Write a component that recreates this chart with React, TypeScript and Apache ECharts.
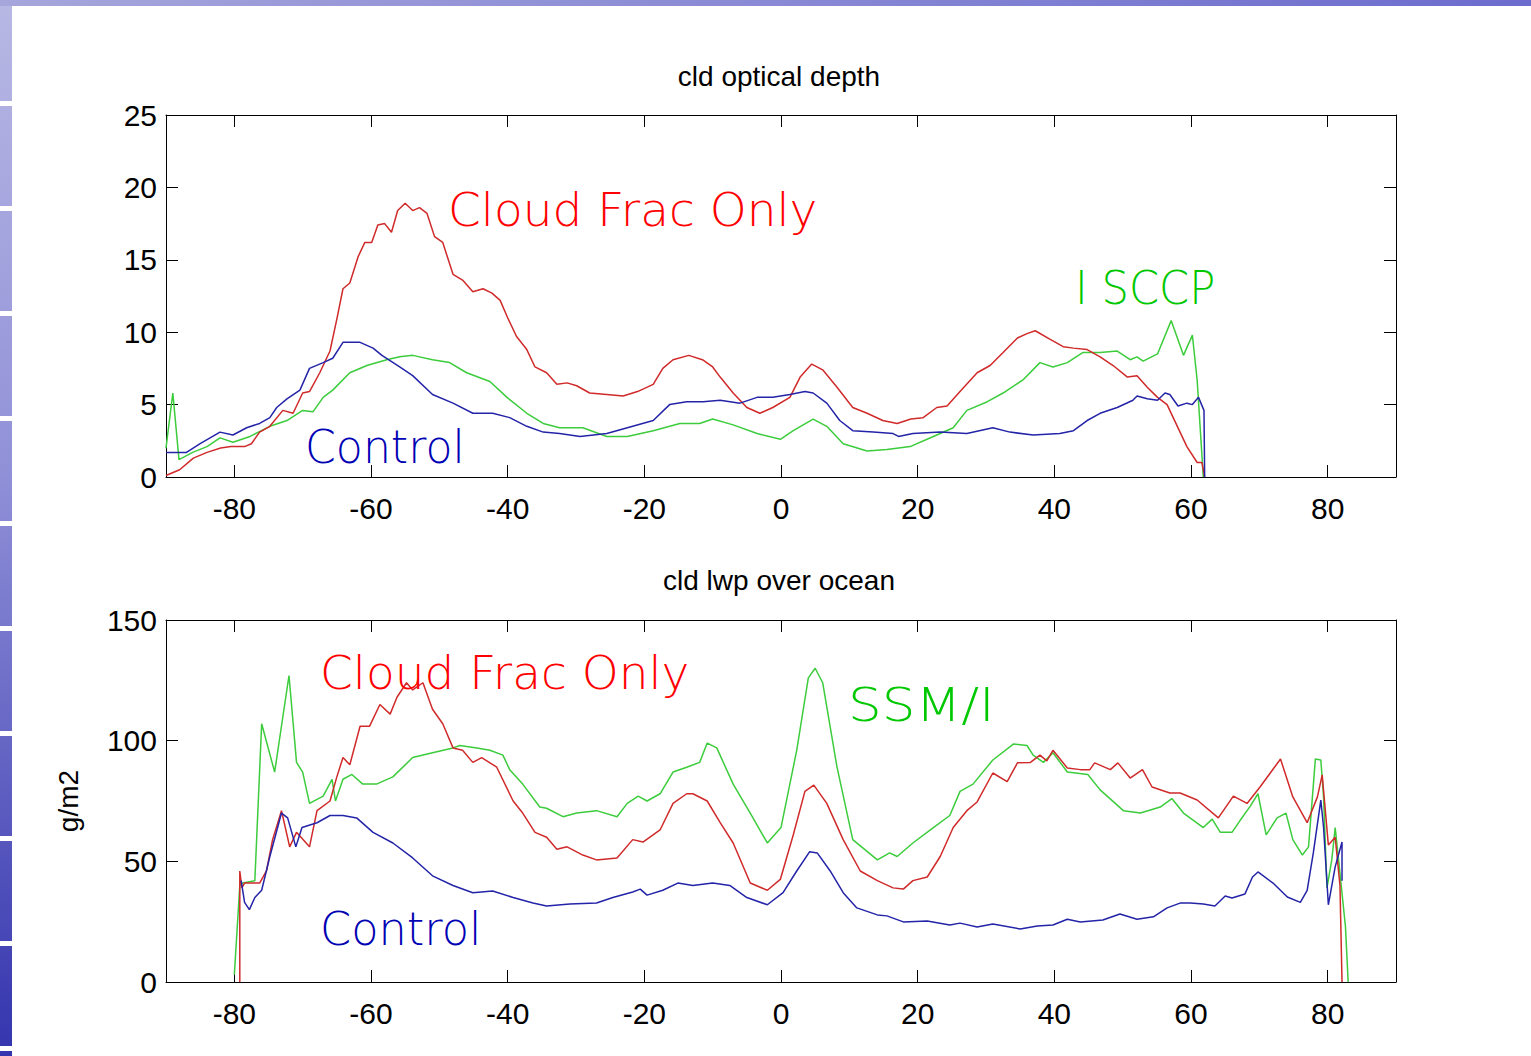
import React, { useEffect, useRef } from "react";
import * as echarts from "echarts";

// Latitude ticks shown on both panels
const latTicks = [-80, -60, -40, -20, 0, 20, 40, 60, 80];

// Panel 1: cloud optical depth, [latitude, value]
const odControl: [number, number][] = [
  [-90, 1.7], [-87, 1.7], [-85, 2.3], [-82.1, 3.1], [-80.2, 2.9], [-78.2, 3.4], [-76.3, 3.7], [-74.8, 4.1],
  [-73.8, 4.8], [-72.3, 5.4], [-70.4, 6.0], [-69, 7.5], [-67, 7.9], [-65.6, 8.2], [-64.1, 9.3], [-61.6, 9.3],
  [-59.7, 8.9], [-58.4, 8.4], [-55.8, 7.6], [-53.9, 7.0], [-51, 5.7], [-48, 5.1], [-45.1, 4.4], [-42.2, 4.4],
  [-39.7, 4.1], [-37.2, 3.5], [-34.8, 3.1], [-32.4, 3.0], [-29.4, 2.8], [-25.5, 3.0], [-21.7, 3.5], [-18.7, 3.9],
  [-16.3, 5.0], [-13.8, 5.2], [-11.4, 5.2], [-8.9, 5.3], [-6, 5.1], [-3.5, 5.5], [-1.2, 5.5], [1.3, 5.7],
  [3.5, 5.9], [4.7, 5.8], [6.7, 5.1], [8.6, 3.9], [10.5, 3.2], [13.5, 3.1], [16.4, 3.0], [17.2, 2.8],
  [19.3, 3.0], [23.3, 3.1], [27.2, 3.0], [31, 3.4], [33.5, 3.1], [36.9, 2.9], [40.8, 3.0], [42.8, 3.2],
  [44.8, 3.9], [46.7, 4.4], [49.2, 4.8], [51.5, 5.3], [52.1, 5.6], [53.6, 5.4], [55.1, 5.3], [56.2, 5.8],
  [56.9, 5.7], [58.1, 4.9], [59.4, 5.1], [60.2, 5.0], [61.1, 5.5], [61.9, 4.6], [62, 0],
];

const odCloudFrac: [number, number][] = [
  [-90, 0.1], [-88, 0.5], [-86, 1.3], [-84, 1.7], [-82, 2.0], [-80.5, 2.1], [-78.5, 2.1], [-77.5, 2.3],
  [-76.3, 3.1], [-74.8, 3.5], [-72.9, 4.6], [-71.4, 4.4], [-70, 5.8], [-69, 5.9], [-67.5, 7.2], [-66, 8.7],
  [-65, 10.9], [-64.1, 13.0], [-63.1, 13.4], [-61.9, 15.2], [-60.9, 16.2], [-59.9, 16.2], [-59, 17.4], [-58, 17.5],
  [-57, 16.9], [-56.1, 18.4], [-55, 18.9], [-53.9, 18.4], [-52.9, 18.6], [-51.8, 18.2], [-50.7, 16.6], [-49.5, 16.2],
  [-48, 14.0], [-46.6, 13.6], [-45.1, 12.8], [-43.6, 13.0], [-42.3, 12.7], [-41.1, 12.2], [-40, 11.0], [-38.7, 9.7],
  [-37.2, 8.8], [-36, 7.6], [-34.3, 7.2], [-32.8, 6.4], [-31.3, 6.5], [-29.9, 6.3], [-28, 5.8], [-25.5, 5.7],
  [-23.1, 5.6], [-21, 5.9], [-18.7, 6.4], [-17.3, 7.5], [-15.8, 8.1], [-13.5, 8.4], [-11.5, 8.1], [-10, 7.6],
  [-8.9, 6.9], [-7, 5.8], [-5, 4.8], [-3.1, 4.4], [-1.2, 4.8], [1.3, 5.5], [2.8, 6.9], [4.5, 7.8],
  [6.1, 7.4], [8.2, 6.2], [10.5, 4.8], [12.6, 4.4], [14.9, 3.9], [17, 3.7], [19, 4.0], [20.8, 4.1],
  [22.8, 4.8], [24.3, 4.9], [26.2, 5.9], [28.7, 7.2], [30.6, 7.7], [32.5, 8.6], [34.6, 9.6], [36, 9.9],
  [37.2, 10.1], [39.4, 9.5], [41.3, 9.0], [42.8, 8.9], [44.8, 8.8], [46.7, 8.3], [48.6, 7.7], [50.7, 6.9],
  [52.1, 7.0], [53.6, 6.2], [55.1, 5.5], [56.5, 5.0], [58, 3.5], [59.4, 2.1], [60.9, 1.0], [61.6, 1.0], [62, 0],
];

const odIsccp: [number, number][] = [
  [-90, 2.0], [-89, 5.8], [-88.1, 1.2], [-86.1, 1.7], [-84, 2.1], [-82.1, 2.7], [-80.2, 2.4], [-77.7, 2.8],
  [-74.8, 3.5], [-72.3, 3.9], [-70, 4.6], [-68.5, 4.5], [-67, 5.5], [-65.6, 6.0], [-63.1, 7.2], [-60.6, 7.7],
  [-57.7, 8.1], [-55.8, 8.3], [-53.9, 8.4], [-51, 8.1], [-48.5, 7.9], [-46, 7.2], [-42.6, 6.6], [-40.1, 5.5],
  [-37.2, 4.4], [-34.8, 3.7], [-32.4, 3.4], [-29, 3.4], [-25.5, 2.8], [-22.5, 2.8], [-18.7, 3.2], [-14.8, 3.7],
  [-11.9, 3.7], [-10, 4.0], [-7, 3.6], [-3.5, 3.0], [-0.1, 2.6], [1.8, 3.2], [4.7, 4.0], [6.7, 3.5],
  [9.1, 2.3], [12.6, 1.8], [15.5, 1.9], [18.9, 2.1], [22.3, 2.8], [25.2, 3.4], [27.2, 4.6], [30.2, 5.2],
  [32.5, 5.8], [35.4, 6.7], [37.9, 7.9], [39.8, 7.6], [41.9, 7.9], [44.2, 8.6], [46.7, 8.6], [49.2, 8.7],
  [51.1, 8.1], [52.1, 8.3], [53, 8.0], [55.1, 8.5], [57.1, 10.8], [58.9, 8.4], [60.2, 9.8], [60.9, 6.7], [61.8, 0],
];

// Panel 2: cloud liquid water path over ocean (g/m2), [latitude, value]
const lwpControl: [number, number][] = [
  [-79, 42], [-78.5, 33], [-77.8, 30], [-77, 35], [-76, 38], [-74.8, 52], [-73.1, 70], [-72.2, 68],
  [-71, 56], [-70.1, 64], [-67.9, 66], [-66, 69], [-64.1, 69], [-62.1, 68], [-59.7, 62], [-56.8, 57.6],
  [-53.9, 51.4], [-51, 44], [-48, 40], [-45.1, 37], [-42.2, 37.7], [-39.2, 35], [-36.3, 32.7], [-34.3, 31.5],
  [-30.9, 32.3], [-27, 32.7], [-24.6, 35], [-21.7, 37.3], [-20.6, 38.5], [-19.6, 36], [-17.3, 38], [-15.1, 41],
  [-12.9, 40], [-10, 41], [-7.5, 40], [-5, 35], [-2, 32], [0.3, 37], [2.3, 46], [4.2, 54],
  [5.3, 53.5], [7.2, 46], [9.1, 37], [11.1, 30.7], [14.1, 27.8], [15.5, 27.4], [17.9, 24.9], [21.4, 25.3],
  [24.7, 23.6], [26.2, 24.4], [28.7, 22.8], [31, 24], [35, 22], [37.5, 23.2], [39.8, 23.6], [41.9, 26],
  [43.8, 24.9], [47.1, 25.7], [49.6, 28.2], [52.1, 26], [54.5, 27], [56.5, 30.7], [58.4, 32.7], [59.9, 32.7],
  [61.8, 32.3], [63.5, 31.5], [65, 35.6], [66, 34.8], [67.9, 36.5], [69, 43.5], [69.8, 45.6], [72, 41],
  [74.1, 35.2], [76, 33], [77, 38], [77.9, 53.5], [79, 75.4], [79.4, 64], [80.1, 32], [81.1, 47.7],
  [82.1, 58], [82.1, 42],
];

const lwpCloudFrac: [number, number][] = [
  [-79.2, 0], [-79.2, 46], [-78.9, 39], [-78.5, 41], [-77.3, 41], [-76.3, 41], [-75.3, 46], [-74.4, 59],
  [-73.1, 71], [-71.9, 56], [-70.9, 62], [-69, 56], [-67.9, 71], [-66, 75], [-65, 85], [-64.1, 93],
  [-63.1, 90], [-61.6, 106], [-60.2, 106], [-58.7, 115], [-57.2, 111], [-56.2, 118], [-54.8, 124], [-53.9, 121],
  [-52.4, 124], [-51, 113], [-49.5, 107], [-48, 97], [-46.6, 96], [-45.1, 91], [-43.8, 93], [-41.6, 89],
  [-39.2, 75], [-37.8, 70], [-36, 62], [-34.3, 60], [-32.8, 55], [-31.3, 56], [-29, 52.6], [-27, 50.6],
  [-24, 51.4], [-21.7, 59], [-20.2, 58], [-17.7, 63], [-15.8, 74], [-13.8, 78], [-12.9, 78], [-10.8, 75],
  [-8.9, 66], [-7, 57.6], [-4.5, 41], [-2, 38], [-0.1, 42.5], [1.8, 61], [3.5, 79], [4.8, 81.6],
  [6.7, 74], [9.1, 59], [11.6, 46], [14.1, 42], [16.4, 39], [17.9, 38.5], [19.3, 42], [21.4, 43.5],
  [23.3, 52], [25.2, 64], [27.2, 71], [28.7, 74.6], [31, 86.6], [33.1, 83], [34.6, 90.8], [36.5, 91],
  [37.9, 94], [38.9, 91.6], [39.8, 96], [41.9, 88.7], [43.8, 88], [45.2, 88], [45.9, 90.8], [48.2, 88],
  [49.3, 90.8], [51.1, 84.5], [52.9, 88], [54.3, 80.8], [56.9, 78.3], [58.4, 78.3], [60.9, 75.4], [64, 68],
  [66.2, 77], [68.2, 74], [70.1, 80.8], [73.1, 92.4], [74.9, 76.7], [77, 66], [78.5, 76.7], [79.2, 85.8],
  [80.1, 56.8], [81.1, 60], [81.8, 40], [82.1, 0],
];

const lwpSsmi: [number, number][] = [
  [-80, 3], [-79.2, 40], [-78.8, 41], [-77, 42], [-76, 107], [-74.1, 87], [-72, 127], [-70.9, 91],
  [-70, 87], [-69, 74], [-67, 77], [-65.7, 84], [-65.2, 75], [-64.1, 84], [-62.8, 86], [-61.2, 82],
  [-59.2, 82], [-56.8, 85], [-53.9, 93], [-51, 95], [-48, 97], [-47, 98], [-44.5, 97], [-42.6, 96],
  [-40.7, 94], [-39.7, 88], [-37.8, 82], [-35.3, 72.5], [-34.3, 72], [-31.9, 68.5], [-29.9, 70], [-27, 71],
  [-24, 68.5], [-22.5, 74], [-20.9, 77], [-19.6, 75], [-17.7, 78], [-15.8, 87], [-13.8, 89], [-11.9, 91],
  [-10.8, 99], [-9.4, 97], [-7, 82], [-4.5, 70], [-2, 57.6], [0, 64], [2.3, 96], [4, 126],
  [5, 130], [6.1, 124], [8.2, 89], [10.5, 59], [14.1, 50.6], [15.9, 53.5], [17, 52], [19.3, 57.6],
  [22.3, 64], [24.7, 69], [26.2, 79], [28.1, 82], [31, 92], [34, 98.6], [36, 98], [36.9, 94],
  [38.4, 91], [39.8, 95], [41.9, 87], [44.9, 86], [46.7, 79.6], [50.1, 71], [52.6, 70], [55.5, 72.5],
  [57.2, 76], [58.9, 70], [61.8, 64], [63.1, 67.5], [64.3, 62], [66, 62], [67.2, 67], [68.7, 73],
  [69.8, 78], [71, 61], [72.6, 68], [73.9, 70], [74.9, 59], [76.3, 52.6], [77.2, 56], [78.2, 92.4],
  [79, 92], [79.4, 76.7], [79.9, 39], [80.6, 50.6], [81.1, 64], [81.6, 50.6], [82.6, 23], [83, 0],
];

const RED = "#d02a2a";
const BLUE = "#2424a8";
const GREEN = "#3ccc3c";
const TICK_FONT = "'Liberation Sans Narrow', 'Liberation Sans', Arial, sans-serif";
const NOTE_FONT = "'DejaVu Sans', 'Noto Sans', sans-serif";

function xAxisPair(gridIndex: number) {
  const base = {
    type: "value" as const,
    gridIndex,
    min: -90,
    max: 90,
    splitLine: { show: false },
    axisLine: { show: true, onZero: false, lineStyle: { color: "#000", width: 1 } },
    axisTick: { show: true, inside: true, length: 12, customValues: latTicks, lineStyle: { color: "#000", width: 1 } },
  };
  return [
    {
      ...base,
      position: "bottom",
      axisLabel: {
        show: true,
        customValues: latTicks,
        margin: 16,
        color: "#000",
        fontSize: 30,
        fontFamily: TICK_FONT,
      },
    },
    { ...base, position: "top", axisLabel: { show: false } },
  ];
}

function yAxisPair(gridIndex: number, max: number, interval: number, name?: string) {
  const base = {
    type: "value" as const,
    gridIndex,
    min: 0,
    max,
    interval,
    splitLine: { show: false },
    axisLine: { show: true, onZero: false, lineStyle: { color: "#000", width: 1 } },
    axisTick: { show: true, inside: true, length: 12, lineStyle: { color: "#000", width: 1 } },
  };
  return [
    {
      ...base,
      position: "left",
      name: name ?? "",
      nameLocation: "middle",
      nameGap: 84,
      nameRotate: 90,
      nameTextStyle: { color: "#000", fontSize: 28, fontFamily: TICK_FONT },
      axisLabel: { show: true, margin: 9, color: "#000", fontSize: 30, fontFamily: TICK_FONT },
    },
    { ...base, position: "right", axisLabel: { show: false } },
  ];
}

function lineSeries(data: [number, number][], color: string, axisIdx: number) {
  return {
    type: "line",
    data,
    xAxisIndex: axisIdx,
    yAxisIndex: axisIdx,
    showSymbol: false,
    symbol: "none",
    smooth: false,
    lineStyle: { color, width: 1.5 },
    z: 3,
  };
}

function note(text: string, x: number, y: number, color: string, scaleX: number) {
  return {
    type: "text",
    x,
    y,
    scaleX,
    z: 10,
    style: {
      text,
      fill: color,
      font: `200 47px ${NOTE_FONT}`,
      textAlign: "left",
      textVerticalAlign: "middle",
    },
  };
}

function title(text: string, y: number) {
  return {
    type: "text",
    x: 779,
    y,
    z: 10,
    style: {
      text,
      fill: "#000",
      font: `28px ${TICK_FONT}`,
      textAlign: "center",
      textVerticalAlign: "middle",
    },
  };
}

// Slide decoration: left band split into segments, plus a thin top bar
const bandGaps = [101, 206, 311, 416, 521, 626, 731, 836, 941, 1046];

function decorations() {
  const items: any[] = [
    {
      type: "rect",
      shape: { x: 0, y: 0, width: 12, height: 1056 },
      style: {
        fill: new echarts.graphic.LinearGradient(0, 0, 0, 1, [
          { offset: 0, color: "#b8b8e4" },
          { offset: 0.45, color: "#9090d8" },
          { offset: 1, color: "#3434ae" },
        ]),
      },
      z: 1,
    },
    {
      type: "rect",
      shape: { x: 0, y: 0, width: 1531, height: 6 },
      style: {
        fill: new echarts.graphic.LinearGradient(0, 0, 1, 0, [
          { offset: 0, color: "#a6a6dc" },
          { offset: 1, color: "#6c6cce" },
        ]),
      },
      z: 1,
    },
  ];
  bandGaps.forEach((g) => {
    items.push({ type: "rect", shape: { x: 0, y: g, width: 12, height: 5 }, style: { fill: "#ffffff" }, z: 2 });
  });
  return items;
}

export default function App() {
  const ref = useRef<HTMLDivElement>(null);

  useEffect(() => {
    if (!ref.current) return;
    const chart = echarts.init(ref.current, undefined, { renderer: "svg" });
    const option: any = {
      animation: false,
      backgroundColor: "#ffffff",
      grid: [
        { left: 166, top: 115, width: 1230, height: 362 },
        { left: 166, top: 620, width: 1230, height: 362 },
      ],
      xAxis: [...xAxisPair(0), ...xAxisPair(1)],
      yAxis: [...yAxisPair(0, 25, 5), ...yAxisPair(1, 150, 50, "g/m2")],
      series: [
        lineSeries(odIsccp, GREEN, 0),
        lineSeries(odCloudFrac, RED, 0),
        lineSeries(odControl, BLUE, 0),
        lineSeries(lwpSsmi, GREEN, 2),
        lineSeries(lwpCloudFrac, RED, 2),
        lineSeries(lwpControl, BLUE, 2),
      ],
      graphic: [
        ...decorations(),
        title("cld optical depth", 76),
        title("cld lwp over ocean", 580),
        note("Cloud Frac Only", 448, 209, "#ff0000", 1.0),
        note("I SCCP", 1075, 288, "#00c800", 0.92),
        note("Control", 305, 447, "#0000b4", 0.94),
        note("Cloud Frac Only", 320, 672, "#ff0000", 1.0),
        note("SSM/I", 848, 705, "#00c800", 1.13),
        note("Control", 320, 929, "#0000b4", 0.95),
      ],
    };
    chart.setOption(option);
    return () => chart.dispose();
  }, []);

  return (
    <div
      ref={ref}
      style={{ position: "fixed", left: 0, top: 0, width: 1531, height: 1056, background: "#fff" }}
    />
  );
}
